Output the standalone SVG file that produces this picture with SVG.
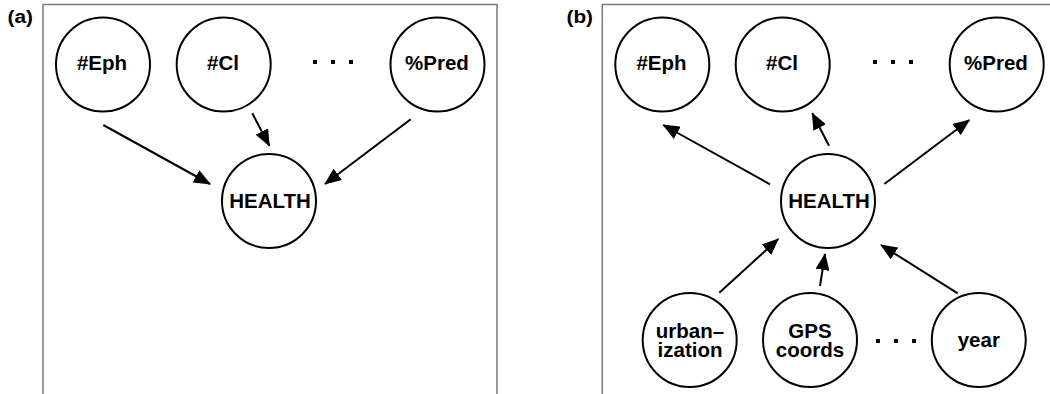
<svg xmlns="http://www.w3.org/2000/svg" width="1050" height="394" viewBox="0 0 1050 394">
<style>
.frame{fill:none;stroke:#7a7a7a;stroke-width:1.5}
.node{fill:#fff;stroke:#000;stroke-width:2}
.lbl{font-family:"Liberation Sans",Arial,sans-serif;font-weight:bold;font-size:20.5px;text-anchor:middle;fill:#000}
.plbl{font-family:"Liberation Sans",Arial,sans-serif;font-weight:bold;font-size:18px;fill:#000}
.edge{stroke:#000;stroke-width:2;fill:none;marker-end:url(#ah)}
.dot{fill:#000}
</style>
<defs>
<marker id="ah" markerUnits="userSpaceOnUse" viewBox="0 0 17 14" refX="16" refY="7" markerWidth="17" markerHeight="14" orient="auto">
<path d="M0,0 L17,7 L0,14 Z" fill="#000"/>
</marker>
</defs>
<rect width="1050" height="394" fill="#fff"/>
<!-- panel a -->
<g id="panel-a">
<path class="frame" d="M43,400 V4.5 H497 V400"/>
<text class="plbl" x="7.5" y="23" textLength="25.5" lengthAdjust="spacingAndGlyphs">(a)</text>
</g>
<g id="a-eph"><circle class="node" cx="103" cy="64.5" r="47"/><text class="lbl" x="102" y="70">#Eph</text></g>
<g id="a-cl"><circle class="node" cx="223.7" cy="64.5" r="47"/><text class="lbl" x="223" y="70">#Cl</text></g>
<g id="a-pred"><circle class="node" cx="437.5" cy="64.5" r="47"/><text class="lbl" x="437" y="70">%Pred</text></g>
<g id="a-health"><circle class="node" cx="269" cy="201" r="47"/><text class="lbl" x="270" y="208">HEALTH</text></g>
<g id="a-dots"><rect class="dot" x="313" y="60" width="4" height="4"/><rect class="dot" x="331" y="60" width="4" height="4"/><rect class="dot" x="349" y="60" width="4" height="4"/></g>
<g id="a-connectors">
<line class="edge" x1="103.3" y1="125" x2="210" y2="184"/>
<line class="edge" x1="252.3" y1="113.3" x2="269.3" y2="145.7"/>
<line class="edge" x1="410.7" y1="119.3" x2="325" y2="184"/>
</g>
<!-- panel b -->
<g id="panel-b">
<path class="frame" d="M602.3,400 V4.5 H1060"/>
<text class="plbl" x="566.5" y="23" textLength="26.5" lengthAdjust="spacingAndGlyphs">(b)</text>
</g>
<g id="b-eph"><circle class="node" cx="662.3" cy="64.5" r="47"/><text class="lbl" x="661.5" y="70">#Eph</text></g>
<g id="b-cl"><circle class="node" cx="782.7" cy="64.5" r="47"/><text class="lbl" x="782" y="70">#Cl</text></g>
<g id="b-pred"><circle class="node" cx="996.7" cy="64.5" r="47"/><text class="lbl" x="996" y="70">%Pred</text></g>
<g id="b-health"><circle class="node" cx="828" cy="201" r="47"/><text class="lbl" x="829" y="208">HEALTH</text></g>
<g id="b-urban"><circle class="node" cx="689.7" cy="340" r="47"/><text class="lbl"><tspan x="690" y="338">urban–</tspan><tspan x="690" y="357">ization</tspan></text></g>
<g id="b-gps"><circle class="node" cx="810" cy="340" r="47"/><text class="lbl"><tspan x="810" y="338">GPS</tspan><tspan x="810" y="357">coords</tspan></text></g>
<g id="b-year"><circle class="node" cx="978.8" cy="340" r="47"/><text class="lbl" x="978.8" y="347">year</text></g>
<g id="b-dots-top"><rect class="dot" x="873" y="60" width="4" height="4"/><rect class="dot" x="891" y="60" width="4" height="4"/><rect class="dot" x="909" y="60" width="4" height="4"/></g>
<g id="b-dots-bottom"><rect class="dot" x="876" y="339" width="4" height="4"/><rect class="dot" x="894" y="339" width="4" height="4"/><rect class="dot" x="912" y="339" width="4" height="4"/></g>
<g id="b-connectors">
<line class="edge" x1="770" y1="184.3" x2="663.3" y2="125"/>
<line class="edge" x1="829" y1="145.7" x2="812.3" y2="113.3"/>
<line class="edge" x1="884.3" y1="184" x2="969.3" y2="120"/>
<line class="edge" x1="719.3" y1="292.7" x2="778.3" y2="239"/>
<line class="edge" x1="820" y1="286" x2="825" y2="254"/>
<line class="edge" x1="957.7" y1="293.3" x2="881" y2="245"/>
</g>
</svg>
